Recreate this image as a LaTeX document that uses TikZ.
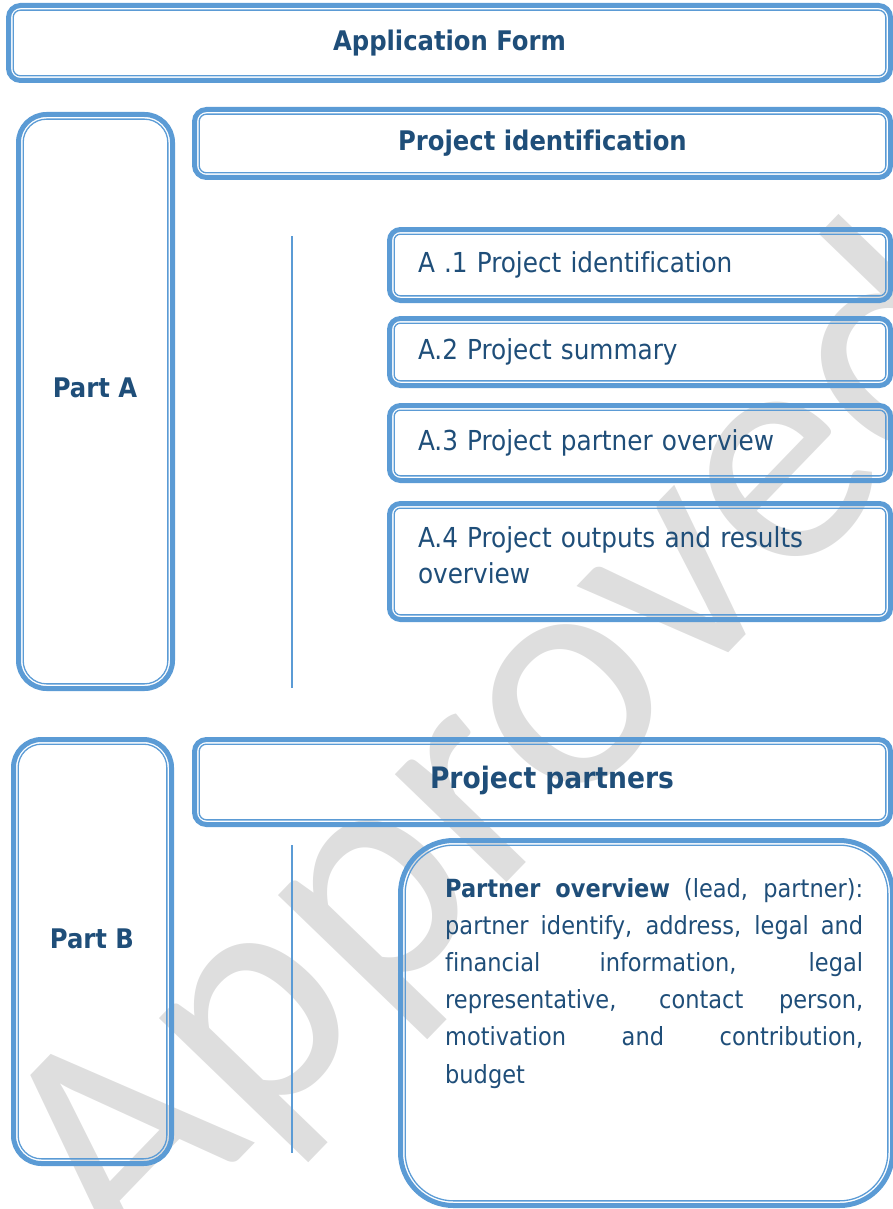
\documentclass[tikz,border=0pt]{standalone}
\usepackage{fontspec}
\setmainfont{DejaVuSansCondensed}[Extension=.ttf, BoldFont=DejaVuSansCondensed-Bold, Ligatures=NoCommon]
\newfontfamily\wmfont{Carlito}
\usepackage{xcolor}
\usetikzlibrary{positioning}
\definecolor{bord}{HTML}{5B9BD5}
\definecolor{ink}{HTML}{1F4E79}
\definecolor{wmgray}{HTML}{DEDEDE}

\begin{document}
\begin{tikzpicture}[x=1pt, y=-1pt,
  boxframe/.style={draw=bord, line width=5pt, inner sep=0pt, text=ink},
  thinline/.style={draw=bord, line width=1.3pt},
  headbox/.style={boxframe, rounded corners=12pt, font=\fontsize{27}{32}\selectfont\bfseries},
  itembox/.style={boxframe, rounded corners=11pt, minimum width=501pt, text width=444pt, inner xsep=28.5pt, align=left, font=\fontsize{27.5}{36.5}\selectfont},
  partbox/.style={boxframe, rounded corners=28pt},
  ovbox/.style={boxframe, rounded corners=53pt},
  parttitle/.style={text=ink, inner sep=0pt, font=\fontsize{27}{32}\selectfont\bfseries},
  para/.style={text=ink, inner sep=0pt, text width=418pt, align=justify, font=\fontsize{25}{37.2}\selectfont},
  sepline/.style={draw=bord, line width=2pt},
  wmark/.style={text=wmgray, inner sep=0pt, font=\wmfont\fontsize{325}{325}\selectfont}
]
\useasboundingbox (0,0) rectangle (893,1209);
\clip (0,0) rectangle (893,1209);

% watermark behind everything
\node[wmark, rotate=46, anchor=base west] (stamp) at (125,1278) {Approved};

% top
\node[headbox, minimum width=882pt, minimum height=75pt] (form) at (449.5,43) {Application Form};

% part A
\node[partbox, minimum width=154pt, minimum height=574pt] (partA) at (95.5,401.5) {};
\node[parttitle, anchor=base] (partAtitle) at (95,397) {Part A};
\node[headbox, minimum width=696pt, minimum height=68pt] (pid) at (542.5,143.5) {Project identification};
\node[itembox, minimum height=71pt] (a1) at (640,265) {A .1 Project identification};
\node[itembox, minimum height=67pt, below=13pt of a1] (a2) {A.2 Project summary};
\node[itembox, minimum height=75pt, below=15pt of a2] (a3) {A.3 Project partner overview};
\node[itembox, minimum height=116pt, text depth=49pt, below=18pt of a3] (a4) {A.4 Project outputs and results\\overview};
\coordinate (sepAtop) at (292,236);
\coordinate (sepAbot) at (292,688);
\draw[sepline] (sepAtop) -- (sepAbot);

% part B
\node[partbox, minimum width=158pt, minimum height=424pt] (partB) at (92.5,951.5) {};
\node[parttitle, anchor=base] (partBtitle) at (92,948) {Part B};
\node[headbox, minimum width=696pt, minimum height=85pt] (ppart) at (542.5,782) {};
\node[parttitle, anchor=base, font=\fontsize{29.5}{34}\selectfont\bfseries] (ppartitle) at (552,788) {Project partners};
\node[ovbox, minimum width=492pt, minimum height=365pt] (pov) at (646.5,1023) {};
\node[para, anchor=base west] (povtext) at (445,897) {\textbf{Partner overview} (lead, partner):\linebreak partner identify, address, legal and\linebreak financial information, legal\linebreak representative, contact person,\linebreak motivation and contribution,\linebreak budget};
\coordinate (sepBtop) at (292,845);
\coordinate (sepBbot) at (292,1153);
\draw[sepline] (sepBtop) -- (sepBbot);

% inner thin line of each double frame
\foreach \n/\r in {form/7.35, pid/7.35, ppart/7.35, a1/6.35, a2/6.35, a3/6.35, a4/6.35, partA/23.35, partB/23.35, pov/48.35}
  \draw[thinline, rounded corners=\r pt] ([shift={(7.15pt,-7.15pt)}]\n.north west) rectangle ([shift={(-7.15pt,7.15pt)}]\n.south east);
\end{tikzpicture}
\end{document}
